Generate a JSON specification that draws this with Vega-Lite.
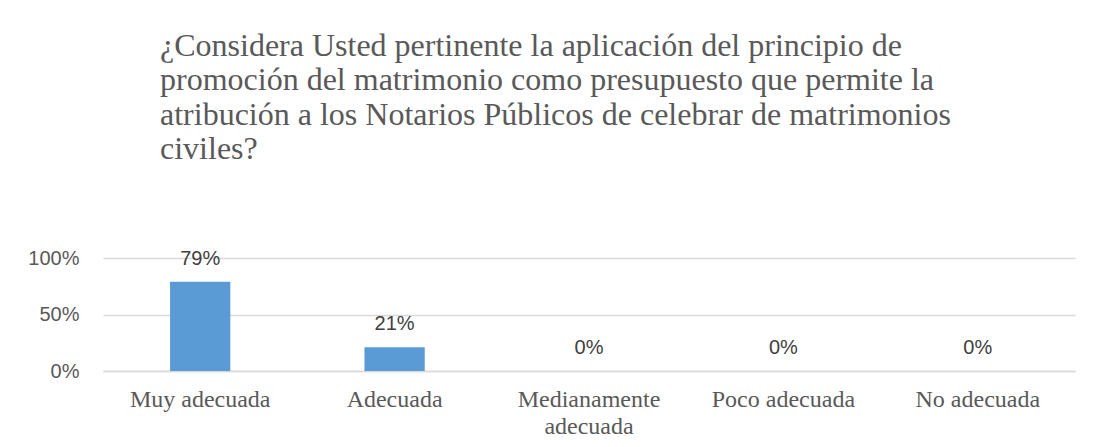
{
  "$schema": "https://vega.github.io/schema/vega-lite/v6.json",
  "width": 972,
  "height": 113,
  "autosize": {"type": "none"},
  "padding": {"left": 103, "top": 258, "right": 22, "bottom": 76},
  "background": "white",
  "title": {
    "text": ["¿Considera Usted pertinente la aplicación del principio de", "promoción del matrimonio como presupuesto que permite la", "atribución a los Notarios Públicos de celebrar de matrimonios", "civiles?"],
    "anchor": "start",
    "frame": "group",
    "dx": 57,
    "offset": 82,
    "font": "Liberation Serif",
    "fontSize": 32,
    "fontWeight": "normal",
    "lineHeight": 34.5,
    "color": "#595959"
  },
  "data": {
    "values": [
      {"categoria": "Muy adecuada", "porcentaje": 0.79},
      {"categoria": "Adecuada", "porcentaje": 0.21},
      {"categoria": "Medianamente adecuada", "porcentaje": 0},
      {"categoria": "Poco adecuada", "porcentaje": 0},
      {"categoria": "No adecuada", "porcentaje": 0}
    ]
  },
  "encoding": {
    "x": {
      "field": "categoria",
      "type": "nominal",
      "sort": null,
      "scale": {"paddingInner": 0.69, "paddingOuter": 0.345},
      "axis": {
        "title": null,
        "labelAngle": 0,
        "labelFont": "Liberation Serif",
        "labelFontSize": 24,
        "labelColor": "#595959",
        "labelPadding": 16,
        "labelLineHeight": 27,
        "labelLimit": 0,
        "labelExpr": "datum.value == 'Medianamente adecuada' ? ['Medianamente', 'adecuada'] : datum.value",
        "domain": true,
        "domainColor": "#d9d9d9",
        "domainWidth": 1.3,
        "ticks": false
      }
    },
    "y": {
      "field": "porcentaje",
      "type": "quantitative",
      "scale": {"domain": [0, 1]},
      "axis": {
        "title": null,
        "values": [0, 0.5, 1],
        "format": ".0%",
        "labelFont": "Liberation Sans",
        "labelFontSize": 20,
        "labelColor": "#595959",
        "labelPadding": 24,
        "domain": false,
        "ticks": false,
        "gridColor": "#d9d9d9",
        "gridWidth": 1.3
      }
    }
  },
  "layer": [
    {"mark": {"type": "bar", "color": "#5b9bd5"}},
    {
      "mark": {"type": "text", "baseline": "alphabetic", "dy": -17, "font": "Liberation Sans", "fontSize": 20, "color": "#404040"},
      "encoding": {"text": {"field": "porcentaje", "type": "quantitative", "format": ".0%"}}
    }
  ],
  "config": {"view": {"stroke": null}}
}
